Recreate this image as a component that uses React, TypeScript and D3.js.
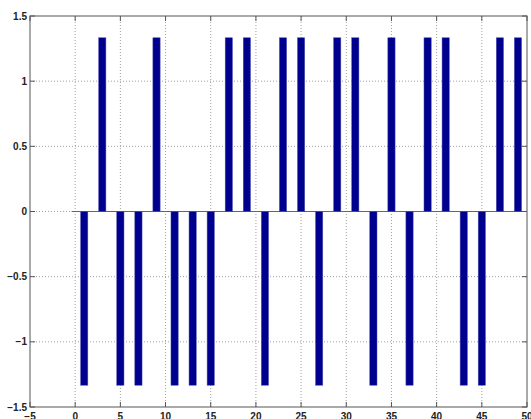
import { useEffect, useRef } from 'react'
import * as d3 from 'd3'

// bar positions (odd integers) and their heights
const positions = [1, 3, 5, 7, 9, 11, 13, 15, 17, 19, 21, 23, 25, 27, 29, 31, 33, 35, 37, 39, 41, 43, 45, 47, 49]
const values = [
  -1.333, 1.333, -1.333, -1.333, 1.333, -1.333, -1.333, -1.333, 1.333, 1.333,
  -1.333, 1.333, 1.333, -1.333, 1.333, 1.333, -1.333, 1.333, -1.333, 1.333,
  1.333, -1.333, -1.333, 1.333, 1.333,
]
const xTicks = [-5, 0, 5, 10, 15, 20, 25, 30, 35, 40, 45, 50]
const yTicks = [-1.5, -1, -0.5, 0, 0.5, 1, 1.5]

const fmt = (v: number) => (v < 0 ? '\u2212' + String(-v) : String(v))

export default function App() {
  const svgRef = useRef<SVGSVGElement>(null)

  useEffect(() => {
    if (!svgRef.current) return
    const width = 531
    const height = 419
    const margin = { top: 16, right: 4, bottom: 12, left: 30 }
    const innerWidth = width - margin.left - margin.right
    const innerHeight = height - margin.top - margin.bottom

    const svg = d3.select(svgRef.current)
    svg.selectAll('*').remove()
    svg.attr('width', width).attr('height', height)

    const g = svg.append('g').attr('transform', `translate(${margin.left},${margin.top})`)

    const x = d3.scaleLinear().domain([-5, 50]).range([0, innerWidth])
    const y = d3.scaleLinear().domain([-1.5, 1.5]).range([innerHeight, 0])

    svg.append('defs').append('clipPath').attr('id', 'plotclip')
      .append('rect').attr('width', innerWidth).attr('height', innerHeight)

    // dotted grid
    g.append('g').selectAll('line').data(xTicks.slice(1, -1)).enter().append('line')
      .attr('x1', d => x(d)).attr('x2', d => x(d))
      .attr('y1', 0).attr('y2', innerHeight)
      .attr('stroke', '#a0a0a0').attr('stroke-width', 1).attr('stroke-dasharray', '1,2')
    g.append('g').selectAll('line').data(yTicks.slice(1, -1)).enter().append('line')
      .attr('y1', d => y(d)).attr('y2', d => y(d))
      .attr('x1', 0).attr('x2', innerWidth)
      .attr('stroke', '#a0a0a0').attr('stroke-width', 1).attr('stroke-dasharray', '1,2')

    const plot = g.append('g').attr('clip-path', 'url(#plotclip)')
    const barW = x(0.8) - x(0)

    // baseline
    plot.append('line')
      .attr('x1', x(-0.4)).attr('x2', x(50.4))
      .attr('y1', y(0)).attr('y2', y(0))
      .attr('stroke', '#5a5ac0').attr('stroke-width', 1)

    plot.selectAll('rect.bar').data(positions).enter().append('rect')
      .attr('class', 'bar')
      .attr('x', d => x(d) - barW / 2)
      .attr('width', barW)
      .attr('y', (d, i) => y(Math.max(0, values[i])))
      .attr('height', (d, i) => Math.abs(y(values[i]) - y(0)))
      .attr('fill', '#00008f')
      .attr('stroke', '#5050b0').attr('stroke-width', 0.5)

    // box and inward ticks
    const axisColor = '#555'
    g.append('rect').attr('width', innerWidth).attr('height', innerHeight)
      .attr('fill', 'none').attr('stroke', axisColor).attr('stroke-width', 1)
    const tl = 5
    xTicks.forEach(t => {
      g.append('line').attr('x1', x(t)).attr('x2', x(t)).attr('y1', innerHeight).attr('y2', innerHeight - tl).attr('stroke', axisColor)
      g.append('line').attr('x1', x(t)).attr('x2', x(t)).attr('y1', 0).attr('y2', tl).attr('stroke', axisColor)
    })
    yTicks.forEach(t => {
      g.append('line').attr('y1', y(t)).attr('y2', y(t)).attr('x1', 0).attr('x2', tl).attr('stroke', axisColor)
      g.append('line').attr('y1', y(t)).attr('y2', y(t)).attr('x1', innerWidth).attr('x2', innerWidth - tl).attr('stroke', axisColor)
    })

    // labels
    g.append('g').selectAll('text').data(xTicks).enter().append('text')
      .attr('x', d => x(d)).attr('y', innerHeight + 13)
      .attr('text-anchor', 'middle')
      .style('font-family', 'Liberation Sans, Arial, sans-serif')
      .style('font-size', '10px').style('font-weight', 'bold').style('fill', '#222')
      .text(d => fmt(d))
    g.append('g').selectAll('text').data(yTicks).enter().append('text')
      .attr('x', -3).attr('y', d => y(d)).attr('dy', '0.35em')
      .attr('text-anchor', 'end')
      .style('font-family', 'Liberation Sans, Arial, sans-serif')
      .style('font-size', '10px').style('font-weight', 'bold').style('fill', '#222')
      .text(d => fmt(d))
  }, [])

  return (
    <div style={{ position: 'absolute', left: 0, top: 0, background: '#fff' }}>
      <svg ref={svgRef} style={{ display: 'block' }}></svg>
    </div>
  )
}
